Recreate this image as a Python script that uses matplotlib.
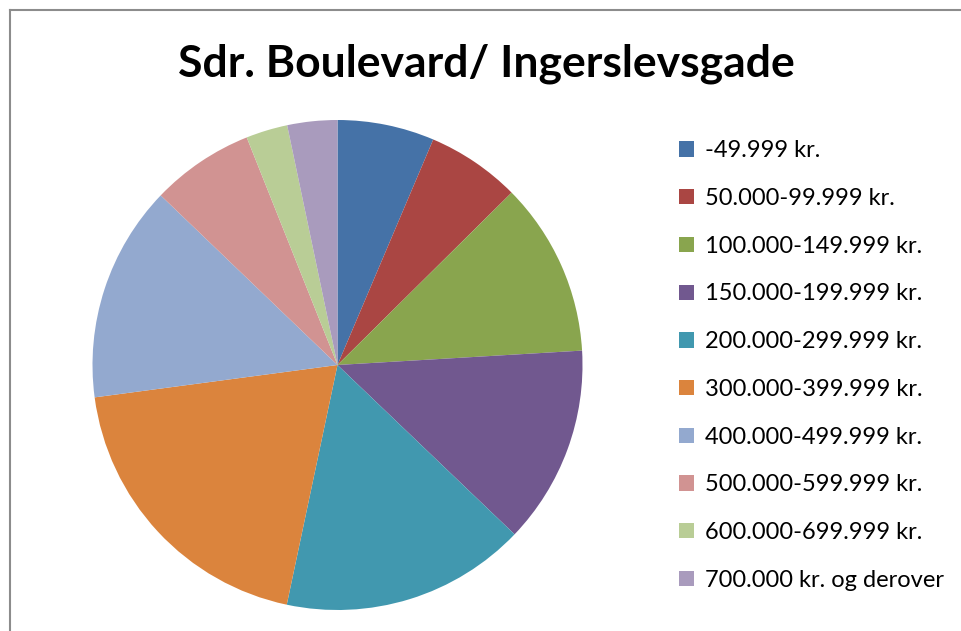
import matplotlib
matplotlib.use('Agg')
from matplotlib import pyplot as plt
from matplotlib.lines import Line2D

# indkomstgrupper og andele (aflæst fra billedet, i procent)
labels = ['-49.999 kr.', '50.000-99.999 kr.', '100.000-149.999 kr.',
          '150.000-199.999 kr.', '200.000-299.999 kr.', '300.000-399.999 kr.',
          '400.000-499.999 kr.', '500.000-599.999 kr.', '600.000-699.999 kr.',
          '700.000 kr. og derover']
shares = [6.4, 6.2, 11.5, 13.1, 16.2, 19.6, 14.3, 6.8, 2.75, 3.3]
colors = ['#4572A7', '#AA4643', '#89A54E', '#71588F', '#4198AF',
          '#DB843D', '#93A9CF', '#D19392', '#B9CD96', '#A99BBD']
title = 'Sdr. Boulevard/ Ingerslevsgade'

W, H = 962, 631
fig = plt.figure(figsize=(W / 100, H / 100), dpi=100)
fig.patch.set_facecolor('white')

# ramme (kun venstre og top synlig)
fig.add_artist(Line2D([9.5 / W, 9.5 / W], [0, 1 - 9.5 / H], color='#8c8c8c', lw=1.5))
fig.add_artist(Line2D([9.5 / W, 1], [1 - 9.5 / H, 1 - 9.5 / H], color='#8c8c8c', lw=1.5))

# cirkel
cx, cy, r = 337.5, 365, 245
ax = fig.add_axes([(cx - r) / W, (H - cy - r) / H, 2 * r / W, 2 * r / H])
wedges, _ = ax.pie(shares, colors=colors, startangle=90, counterclock=False,
                   radius=1, wedgeprops=dict(linewidth=0))
ax.set_xlim(-1, 1)
ax.set_ylim(-1, 1)
ax.axis('off')

fig.text(486 / W, 1 - 64 / H, title, ha='center', va='center',
         fontsize=32, fontweight='bold', family='Lato')

leg = fig.legend(wedges, labels, loc='upper left', bbox_to_anchor=(670 / W, 1 - 131 / H),
                 frameon=False, prop=dict(family='Lato', size=17),
                 handlelength=0.62, handleheight=0.62, handletextpad=0.45,
                 labelspacing=1.13, borderaxespad=0)

plt.savefig('out.png', dpi=100)
